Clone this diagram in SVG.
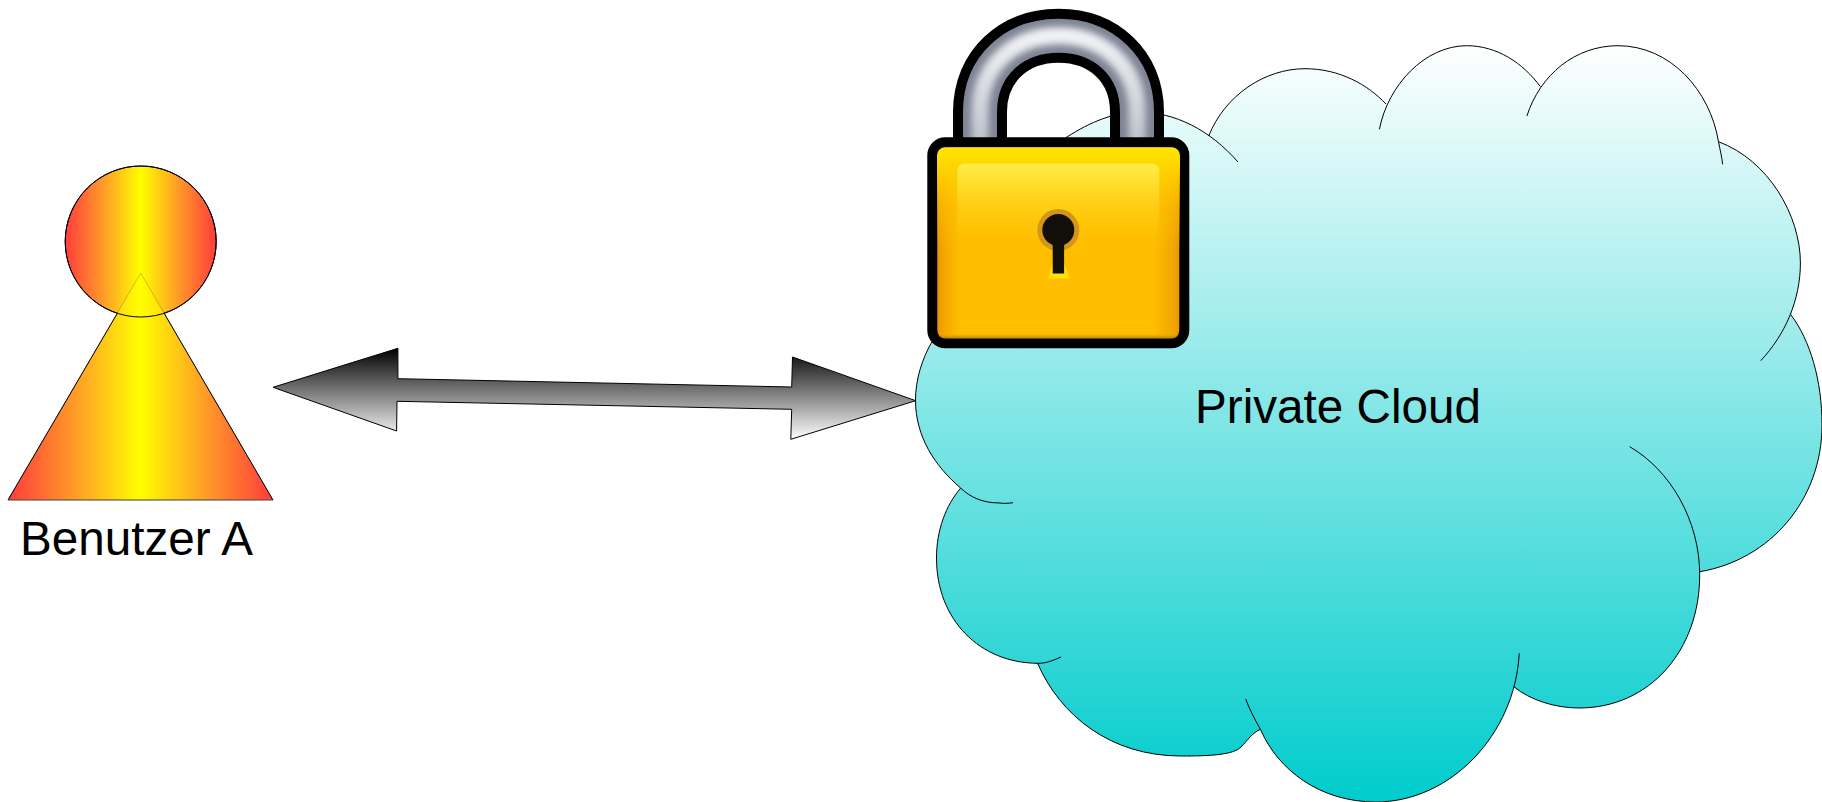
<svg xmlns="http://www.w3.org/2000/svg" width="1822" height="802" viewBox="0 0 1822 802">
<style>
.lbl{font-family:"Liberation Sans",Arial,sans-serif;fill:#000}
.edge{fill:none;stroke:#000;stroke-width:1}
.cf{fill:url(#cloudG);stroke:none}
.metal{fill:none;stroke-linecap:butt}
</style>
<defs>
<linearGradient id="headG" x1="0" x2="1" y1="0" y2="0"><stop offset="0" stop-color="#ff3c3c"/><stop offset=".25" stop-color="#ff9a28"/><stop offset=".5" stop-color="#ffff00"/><stop offset=".75" stop-color="#ff9a28"/><stop offset="1" stop-color="#ff3c3c"/></linearGradient>
<linearGradient id="bodyG" x1="0" x2="1" y1="0" y2="0"><stop offset="0" stop-color="#ff3c3c"/><stop offset=".25" stop-color="#ff9a28"/><stop offset=".5" stop-color="#ffff00"/><stop offset=".75" stop-color="#ff9a28"/><stop offset="1" stop-color="#ff3c3c"/></linearGradient>
<linearGradient id="arrowG" x1="0" x2="0" y1="0" y2="1"><stop offset="0" stop-color="#000"/><stop offset="1" stop-color="#fff"/></linearGradient>
<linearGradient id="cloudG" gradientUnits="userSpaceOnUse" x1="0" x2="0" y1="45" y2="802"><stop offset="0" stop-color="#fff"/><stop offset="1" stop-color="#00cccc"/></linearGradient>
<linearGradient id="lockH" x1="0" x2="1" y1="0" y2="0"><stop offset="0" stop-color="#e08c00"/><stop offset=".05" stop-color="#f5a800"/><stop offset=".11" stop-color="#ffbe00"/><stop offset=".88" stop-color="#ffbe00"/><stop offset=".96" stop-color="#f0a400"/><stop offset="1" stop-color="#dd8800"/></linearGradient>
<linearGradient id="lockV" x1="0" x2="0" y1="0" y2="1"><stop offset="0" stop-color="#ffe600"/><stop offset=".08" stop-color="#ffd800"/><stop offset=".3" stop-color="#ffc800" stop-opacity=".5"/><stop offset=".55" stop-color="#ffc000" stop-opacity="0"/><stop offset=".97" stop-color="#ffc000" stop-opacity="0"/><stop offset="1" stop-color="#a87808" stop-opacity=".9"/></linearGradient>
<linearGradient id="lockHi" x1="0" x2="0" y1="0" y2="1"><stop offset="0" stop-color="#ffee50" stop-opacity=".9"/><stop offset="1" stop-color="#ffd820" stop-opacity="0"/></linearGradient>
<linearGradient id="metalHi" gradientUnits="userSpaceOnUse" x1="0" x2="0" y1="20" y2="150"><stop offset="0" stop-color="#f8f9fb"/><stop offset="1" stop-color="#bcc0ca"/></linearGradient>
<filter id="soft" x="-20%" y="-20%" width="140%" height="140%"><feGaussianBlur stdDeviation="3.5"/></filter>
<path id="shackle" d="M980 150V112C980 66 1014 35.8 1058.5 35.8C1103 35.8 1137 66 1137 112V150"/>
<path id="l1" d="M1013 502.7C1008 503.5 1003 503.5 1000 503C982 503 970 497 960.6 488C935 466 915.5 437 915.5 400C915.5 380 922 358 933 340C960 260 1010 170 1067 137C1090 122 1115 112 1138 112C1175 112 1210 130 1238 162"/>
<path id="l2" d="M1208.7 136C1225 95 1265 68.7 1305 68.7C1340 68.7 1368 85 1386 104"/>
<path id="l3" d="M1379.4 129.3C1388 85 1425 45.7 1466.7 45.7C1497 45.7 1523 63 1540.4 86.7"/>
<path id="l4" d="M1526.9 116C1540 75 1575 45.7 1618 45.7C1670 45.7 1710 90 1718.5 141.7C1720 150 1722 157 1722.6 164.3"/>
<path id="l5" d="M1718.5 141.7C1768 160 1800.4 215 1800.4 263C1800.4 300 1785 335 1760.7 360.7"/>
<path id="l6" d="M1791 315C1810 340 1822 380 1822 425C1822 500 1770 560 1699.7 571.7"/>
<path id="l7" d="M1629.7 446.7C1670 470 1699.7 520 1699.7 575C1699.7 650 1650 708 1579 708C1555 708 1530 700 1513.9 686.7"/>
<path id="l8" d="M1519.2 653.3C1515 735 1450 802 1376 802C1320 802 1278 770 1260.4 729.3C1254 718 1249 708 1245.7 699"/>
<path id="l9" d="M1260.4 729.3C1252 733 1248 740 1241 747C1233 755 1210 756 1181 756C1110 756 1060 715 1037.6 663.3"/>
<path id="l10" d="M1061 657C1052 661 1045 663.5 1037.6 663.3C980 663 936.5 620 936.5 558C936.5 530 946 505 960.6 488.3"/>
</defs>

<g id="cloud">
<polygon points="1208.7,136 1386,104 1540.4,87 1718.5,141.7 1791,315 1699.7,571.7 1513.9,686.7 1260.4,729.3 1037.6,663.3 960.6,488.3 933,340 1067,137" fill="url(#cloudG)" stroke="url(#cloudG)" stroke-width="2" stroke-linejoin="round"/>
<use href="#l1" class="cf"/><use href="#l2" class="cf"/><use href="#l3" class="cf"/><use href="#l4" class="cf"/><use href="#l5" class="cf"/><use href="#l6" class="cf"/><use href="#l7" class="cf"/><use href="#l8" class="cf"/><use href="#l9" class="cf"/><use href="#l10" class="cf"/>
<polygon points="1208.7,136 1386,104 1540.4,87 1718.5,141.7 1791,315 1699.7,571.7 1513.9,686.7 1260.4,729.3 1037.6,663.3 960.6,488.3 933,340 1067,137" fill="none" stroke="url(#cloudG)" stroke-width="2" stroke-linejoin="round"/>
<use href="#l1" class="edge"/><use href="#l2" class="edge"/><use href="#l3" class="edge"/><use href="#l4" class="edge"/><use href="#l5" class="edge"/><use href="#l6" class="edge"/><use href="#l7" class="edge"/><use href="#l8" class="edge"/><use href="#l9" class="edge"/><use href="#l10" class="edge"/>
<text class="lbl" x="1195" y="423" font-size="48" textLength="286" lengthAdjust="spacingAndGlyphs">Private Cloud</text>
</g>

<g id="lock">
<use href="#shackle" fill="none" stroke="#000" stroke-width="54"/>
<use href="#shackle" class="metal" stroke="#7e8494" stroke-width="34"/>
<use href="#shackle" class="metal" stroke="url(#metalHi)" stroke-width="17" filter="url(#soft)"/>
<rect x="932.3" y="142.3" width="252" height="201" rx="13" fill="url(#lockH)" stroke="#000" stroke-width="10"/>
<rect x="937" y="147.5" width="243" height="191" rx="8" fill="url(#lockV)"/>
<rect x="957.3" y="163.5" width="202" height="75" rx="7" fill="url(#lockHi)"/>
<circle cx="1058.3" cy="230" r="21" fill="#d2961a"/>
<polygon points="1052.7,263 1064,263 1070,278.5 1048,278.5" fill="#ffe000"/>
<circle cx="1058.3" cy="230" r="16" fill="#120f0a"/>
<rect x="1052.7" y="235" width="11.4" height="38.5" fill="#120f0a"/>
</g>

<g id="person">
<circle cx="140.7" cy="241.5" r="75.5" fill="url(#headG)" stroke="#000"/>
<polygon points="140.7,273 273,500 8,500" fill="url(#bodyG)"/>
<polygon points="140.7,273 273,500 8,500" fill="none" stroke="#000" stroke-opacity=".2"/>
<path d="M117.5 313L8 500M164 313L273 500" fill="none" stroke="#000"/>
<path d="M8 500H273" fill="none" stroke="#555" stroke-width="1"/>
<circle cx="140.7" cy="241.5" r="75.5" fill="none" stroke="#000"/>
<text class="lbl" x="20" y="555" font-size="48" textLength="233" lengthAdjust="spacingAndGlyphs">Benutzer A</text>
</g>

<g id="connectors">
<polygon points="273,387.3 397.9,348.3 397.9,378.7 791.7,387 792.5,357 915.7,400.7 790.8,439.3 791.7,409.3 397,401.3 396.6,431" fill="url(#arrowG)" stroke="#000"/>
</g>
</svg>
